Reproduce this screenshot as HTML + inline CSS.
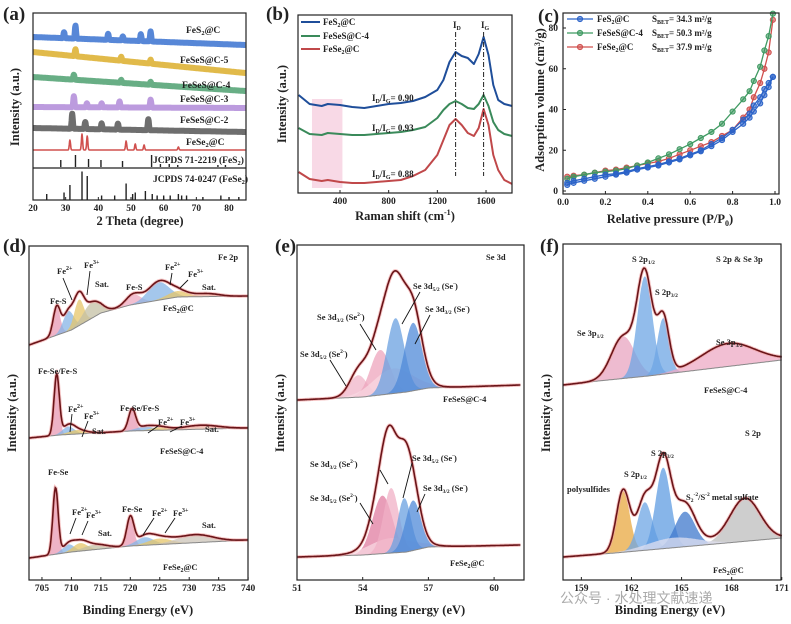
<!DOCTYPE html>
<html><head><meta charset="utf-8"><style>
html,body{margin:0;padding:0;background:#fff;}
svg{display:block;font-family:"Liberation Serif",serif;font-weight:bold;}
text{fill:#222;}
</style></head><body>
<svg id="fig" width="791" height="624" viewBox="0 0 791 624">
<rect width="791" height="624" fill="#fff"/>
<g id="marks"></g>
<g fill="none" stroke="#222" stroke-width="1.2">
<rect x="33" y="13" width="213" height="187"/>
<line x1="33" y1="168" x2="246" y2="168"/>
<rect x="298" y="15" width="214" height="178"/>
<rect x="563" y="13" width="216" height="181"/>
<rect x="29" y="246" width="219" height="334"/>
<rect x="297" y="245" width="227" height="335"/>
<rect x="563" y="244" width="218" height="336"/>
</g>
<g id="ticks" font-size="9.5" text-anchor="middle"></g>
<g font-size="19">
<text x="3" y="20">(a)</text>
<text x="266" y="20">(b)</text>
<text x="538" y="22">(c)</text>
<text x="3" y="252">(d)</text>
<text x="275" y="252">(e)</text>
<text x="540" y="252">(f)</text>
</g>
<g font-size="12.5" text-anchor="middle">
<text x="140" y="225">2 Theta (degree)</text>
<text x="405" y="220">Raman shift (cm<tspan dy="-5" font-size="8">-1</tspan><tspan dy="5">)</tspan></text>
<text x="670" y="223">Relative pressure (P/P<tspan dy="3" font-size="8">0</tspan><tspan dy="-3">)</tspan></text>
<text x="138" y="614">Binding Energy (eV)</text>
<text x="410" y="614">Binding Energy (eV)</text>
<text x="670" y="614">Binding Energy (eV)</text>
<text transform="translate(19,107) rotate(-90)">Intensity (a.u.)</text>
<text transform="translate(286,104) rotate(-90)">Intensity (a.u.)</text>
<text transform="translate(544,100) rotate(-90)">Adsorption volume (cm<tspan dy="-4" font-size="8">3</tspan><tspan dy="4">/g)</tspan></text>
<text transform="translate(16,413) rotate(-90)">Intensity (a.u.)</text>
<text transform="translate(284,413) rotate(-90)">Intensity (a.u.)</text>
<text transform="translate(550,413) rotate(-90)">Intensity (a.u.)</text>
</g>
<g font-size="9.5">
<text x="186" y="33">FeS<tspan dy="2" font-size="6.5">2</tspan><tspan dy="-2">@C</tspan></text>
<text x="180" y="63">FeSeS@C-5</text>
<text x="182" y="88">FeSeS@C-4</text>
<text x="180" y="102">FeSeS@C-3</text>
<text x="180" y="123">FeSeS@C-2</text>
<text x="186" y="145">FeSe<tspan dy="2" font-size="6.5">2</tspan><tspan dy="-2">@C</tspan></text>
<text x="153" y="163">JCPDS 71-2219 (FeS<tspan dy="2" font-size="6.5">2</tspan><tspan dy="-2">)</tspan></text>
<text x="153" y="182">JCPDS 74-0247 (FeSe<tspan dy="2" font-size="6.5">2</tspan><tspan dy="-2">)</tspan></text>
</g>
<g font-size="9">
<line x1="301" y1="22" x2="320" y2="22" stroke="#1f4e9a" stroke-width="2"/>
<text x="323" y="25">FeS<tspan dy="2" font-size="6">2</tspan><tspan dy="-2">@C</tspan></text>
<line x1="301" y1="36" x2="320" y2="36" stroke="#3a8a5a" stroke-width="2"/>
<text x="323" y="39">FeSeS@C-4</text>
<line x1="301" y1="49" x2="320" y2="49" stroke="#c0484a" stroke-width="2"/>
<text x="323" y="52">FeSe<tspan dy="2" font-size="6">2</tspan><tspan dy="-2">@C</tspan></text>
<text x="372" y="101">I<tspan dy="2" font-size="6">D</tspan><tspan dy="-2">/I</tspan><tspan dy="2" font-size="6">G</tspan><tspan dy="-2">= 0.90</tspan></text>
<text x="372" y="131">I<tspan dy="2" font-size="6">D</tspan><tspan dy="-2">/I</tspan><tspan dy="2" font-size="6">G</tspan><tspan dy="-2">= 0.93</tspan></text>
<text x="372" y="177">I<tspan dy="2" font-size="6">D</tspan><tspan dy="-2">/I</tspan><tspan dy="2" font-size="6">G</tspan><tspan dy="-2">= 0.88</tspan></text>
<text x="453" y="28">I<tspan dy="2" font-size="6">D</tspan></text>
<text x="481" y="28">I<tspan dy="2" font-size="6">G</tspan></text>
</g>
<g font-size="9">
<text x="597" y="22">FeS<tspan dy="2" font-size="6">2</tspan><tspan dy="-2">@C</tspan></text>
<text x="597" y="36">FeSeS@C-4</text>
<text x="597" y="50">FeSe<tspan dy="2" font-size="6">2</tspan><tspan dy="-2">@C</tspan></text>
<text x="652" y="22">S<tspan dy="2" font-size="6">BET</tspan><tspan dy="-2">= 34.3 m²/g</tspan></text>
<text x="652" y="36">S<tspan dy="2" font-size="6">BET</tspan><tspan dy="-2">= 50.3 m²/g</tspan></text>
<text x="652" y="50">S<tspan dy="2" font-size="6">BET</tspan><tspan dy="-2">= 37.9 m²/g</tspan></text>
</g>
<g font-size="8.5">
<text x="218" y="260">Fe 2p</text>
<text x="50" y="304">Fe-S</text>
<text x="57" y="274">Fe<tspan dy="-4" font-size="6">2+</tspan></text>
<text x="84" y="268">Fe<tspan dy="-4" font-size="6">3+</tspan></text>
<text x="95" y="287">Sat.</text>
<text x="126" y="290">Fe-S</text>
<text x="165" y="270">Fe<tspan dy="-4" font-size="6">2+</tspan></text>
<text x="188" y="277">Fe<tspan dy="-4" font-size="6">3+</tspan></text>
<text x="202" y="290">Sat.</text>
<text x="163" y="311">FeS<tspan dy="2" font-size="6">2</tspan><tspan dy="-2">@C</tspan></text>
<text x="38" y="374">Fe-Se/Fe-S</text>
<text x="68" y="412">Fe<tspan dy="-4" font-size="6">2+</tspan></text>
<text x="84" y="419">Fe<tspan dy="-4" font-size="6">3+</tspan></text>
<text x="92" y="434">Sat.</text>
<text x="120" y="411">Fe-Se/Fe-S</text>
<text x="158" y="425">Fe<tspan dy="-4" font-size="6">2+</tspan></text>
<text x="180" y="425">Fe<tspan dy="-4" font-size="6">3+</tspan></text>
<text x="205" y="432">Sat.</text>
<text x="160" y="454">FeSeS@C-4</text>
<text x="48" y="475">Fe-Se</text>
<text x="72" y="515">Fe<tspan dy="-4" font-size="6">2+</tspan></text>
<text x="86" y="518">Fe<tspan dy="-4" font-size="6">3+</tspan></text>
<text x="98" y="536">Sat.</text>
<text x="122" y="512">Fe-Se</text>
<text x="152" y="516">Fe<tspan dy="-4" font-size="6">2+</tspan></text>
<text x="173" y="516">Fe<tspan dy="-4" font-size="6">3+</tspan></text>
<text x="202" y="528">Sat.</text>
<text x="163" y="570">FeSe<tspan dy="2" font-size="6">2</tspan><tspan dy="-2">@C</tspan></text>
</g>
<g font-size="8.5">
<text x="486" y="260">Se 3d</text>
<text x="413" y="289">Se 3d<tspan dy="2" font-size="5.5">5/2</tspan><tspan dy="-2"> (Se</tspan><tspan dy="-4" font-size="5.5">-</tspan><tspan dy="4">)</tspan></text>
<text x="425" y="312">Se 3d<tspan dy="2" font-size="5.5">3/2</tspan><tspan dy="-2"> (Se</tspan><tspan dy="-4" font-size="5.5">-</tspan><tspan dy="4">)</tspan></text>
<text x="317" y="320">Se 3d<tspan dy="2" font-size="5.5">3/2</tspan><tspan dy="-2"> (Se</tspan><tspan dy="-4" font-size="5.5">2-</tspan><tspan dy="4">)</tspan></text>
<text x="300" y="357">Se 3d<tspan dy="2" font-size="5.5">5/2</tspan><tspan dy="-2"> (Se</tspan><tspan dy="-4" font-size="5.5">2-</tspan><tspan dy="4">)</tspan></text>
<text x="443" y="402">FeSeS@C-4</text>
<text x="310" y="467">Se 3d<tspan dy="2" font-size="5.5">3/2</tspan><tspan dy="-2"> (Se</tspan><tspan dy="-4" font-size="5.5">2-</tspan><tspan dy="4">)</tspan></text>
<text x="412" y="461">Se 3d<tspan dy="2" font-size="5.5">5/2</tspan><tspan dy="-2"> (Se</tspan><tspan dy="-4" font-size="5.5">-</tspan><tspan dy="4">)</tspan></text>
<text x="423" y="491">Se 3d<tspan dy="2" font-size="5.5">3/2</tspan><tspan dy="-2"> (Se</tspan><tspan dy="-4" font-size="5.5">-</tspan><tspan dy="4">)</tspan></text>
<text x="310" y="501">Se 3d<tspan dy="2" font-size="5.5">5/2</tspan><tspan dy="-2"> (Se</tspan><tspan dy="-4" font-size="5.5">2-</tspan><tspan dy="4">)</tspan></text>
<text x="450" y="566">FeSe<tspan dy="2" font-size="6">2</tspan><tspan dy="-2">@C</tspan></text>
</g>
<g font-size="8.5">
<text x="716" y="262">S 2p &amp; Se 3p</text>
<text x="632" y="262">S 2p<tspan dy="2" font-size="5.5">1/2</tspan></text>
<text x="655" y="295">S 2p<tspan dy="2" font-size="5.5">3/2</tspan></text>
<text x="577" y="336">Se 3p<tspan dy="2" font-size="5.5">1/2</tspan></text>
<text x="716" y="345">Se 3p<tspan dy="2" font-size="5.5">3/2</tspan></text>
<text x="704" y="393">FeSeS@C-4</text>
<text x="745" y="436">S 2p</text>
<text x="651" y="456">S 2p<tspan dy="2" font-size="5.5">3/2</tspan></text>
<text x="624" y="477">S 2p<tspan dy="2" font-size="5.5">1/2</tspan></text>
<text x="567" y="492">polysulfides</text>
<text x="686" y="500">S<tspan dy="2" font-size="5.5">2</tspan><tspan dy="-6" font-size="5.5">-2</tspan><tspan dy="4">/S</tspan><tspan dy="-4" font-size="5.5">-2</tspan><tspan dy="4"> metal sulfate</tspan></text>
<text x="713" y="573">FeS<tspan dy="2" font-size="6">2</tspan><tspan dy="-2">@C</tspan></text>
</g>
<g stroke="#111" stroke-width="0.9" fill="none" id="arrows">
<line x1="63" y1="278" x2="72" y2="300"/><line x1="90" y1="271" x2="87" y2="295"/>
<line x1="172" y1="273" x2="170" y2="285"/><line x1="188" y1="280" x2="180" y2="288"/>
<line x1="72" y1="414" x2="70" y2="432"/><line x1="88" y1="421" x2="82" y2="437"/>
<line x1="158" y1="426" x2="148" y2="433"/><line x1="182" y1="426" x2="170" y2="432"/>
<line x1="76" y1="518" x2="70" y2="534"/><line x1="88" y1="521" x2="82" y2="535"/>
<line x1="154" y1="518" x2="143" y2="535"/><line x1="175" y1="518" x2="165" y2="533"/>
<line x1="420" y1="292" x2="402" y2="324"/><line x1="430" y1="315" x2="415" y2="344"/>
<line x1="360" y1="324" x2="376" y2="350"/><line x1="330" y1="360" x2="346" y2="386"/>
<line x1="380" y1="470" x2="388" y2="484"/><line x1="412" y1="463" x2="403" y2="498"/>
<line x1="425" y1="494" x2="417" y2="512"/><line x1="360" y1="503" x2="373" y2="524"/>
</g>
<text x="560" y="603" font-size="14" font-weight="normal" style="fill:#aaa" font-family="'Liberation Sans','Noto Sans CJK SC',sans-serif">公众号 · 水处理文献速递</text>
</svg>
<script>
// ===== Panel a: XRD =====
const xrdNames=['FeS2@C','FeSeS@C-5','FeSeS@C-4','FeSeS@C-3','FeSeS@C-2','FeSe2@C'];
const xrdBaseStart=[163,148,123,93,72,50];
const xrdBaseEnd=[155,127,109,92,68,50];
const xrdPeakPos=[[29.5,33,43,47.5,53,56],[33,47,56],[32.5,47,56],[32.5,36.5,41,46.5,56],[32,36,41,46,55.3],[31.3,35,36.6,48.5,51.3,54,64.5]];
const xrdPeakH=[[6,13,6,4,7,10],[7,4,4],[5,3,3],[11,4,4,6,8],[15,7,6,6,11],[10,16,14,9,6,5,3]];
const refFeS2Pos=[28.5,33,37,40.8,47.4,56.3,59,61.7,64.3,76.6,78.9];
const refFeS2H=[7,12,8,7,6,12,3,3,2,2,2];
const refFeSe2Pos=[24.2,29.5,31.3,35,36.6,41,45,48.5,50.5,51.3,54.4,56.5,58,60,62,64.5,65.5,67,72,77.5,80,83];
const refFeSe2H=[4,5,10,19,16,3,3,11,4,5,6,4,3,3,3,4,3,3,2,3,2,2];
const xTicksA=[20,30,40,50,60,70,80];
// ===== Panel b: Raman =====
const ramanShift=[60,150,250,300,400,500,600,700,800,900,1000,1100,1200,1250,1300,1350,1400,1450,1500,1540,1580,1620,1660,1700,1750,1814];
const ramanFeS2=[98,89,87,89,88,86,85,87,89,90,92,96,103,113,131,141,137,135,129,139,156,138,108,93,89,87];
const ramanFeSeS=[65,59,58,60,59,58,58,59,60,61,63,66,75,83,89,92,89,85,84,89,98,87,71,63,59,57];
const ramanFeSe2=[21,14,12,13,11,10,10,11,12,13,17,23,38,53,68,74,68,60,57,65,84,68,38,23,13,9];
const ramanBandPos=[1350,1580];
const xTicksB=[400,800,1200,1600];
// ===== Panel c: BET =====
const betP=[0.02,0.05,0.1,0.15,0.2,0.25,0.3,0.35,0.4,0.45,0.5,0.55,0.6,0.65,0.7,0.75,0.8,0.85,0.88,0.9,0.93,0.95,0.97,0.99];
const betFeS2=[3,4,5,6,7,8,9,10.5,11.5,12.5,14,15.5,17.5,19.5,22,25,29,33,36,39,43,47,51,56];
const betFeS2Des=[4,5,6,7,8,8.5,9.5,11,12,13,14.5,16,18,20,23,26,30,35,38,42,46,50,53,56];
const betFeSeS=[6,7,8,9,9.5,10,11,12.5,14,16,18,20.5,23,26,29,33,39,45,49,54,61,69,76,87];
const betFeSe2=[7,7.5,8,9,10,10.5,11.5,12.5,13.5,14.5,16,18,20,22,24,27,30,36,40,46,53,60,68,84];
const yTicksC=[0,20,40,60,80];
const xTicksC=[0,0.2,0.4,0.6,0.8,1.0];
// ===== Panel d: Fe 2p =====
const dBaseE=[[702.8,710,715,720,728,740],[702.8,708,720,740],[702.8,710,720,740]];
const dBaseV=[[235,250,267,275,283,284],[142,145,149,152],[22,28,34,40]];
const dPeakC=[[707.5,709.5,711.3,713.5,720.5,724.8,728,733],[707.5,709.5,711,720.3,722.5,725,732],[707.3,709.5,711.5,714,720,722.5,725,731]];
const dPeakH=[[28,20,26,16,10,18,6,3],[60,8,4,21,4,3,4],[66,8,8,5,28,8,6,8]];
const dPeakW=[[0.6,0.9,0.8,1.5,1.3,1.8,1.8,2],[0.45,1,1.5,0.6,1.5,1.5,3],[0.45,1,1.2,2,0.6,1.5,2,3]];
const dPeakColor=[['#e89ab4','#86b4e6','#e6c66a','#c4c0a4','#eeaac0','#86b4e6','#e6c66a','#eebbaa'],['#e89ab4','#86b4e6','#e6c66a','#e89ab4','#86b4e6','#e6c66a','#eebbaa'],['#e89ab4','#86b4e6','#e6c66a','#c4c0a4','#e89ab4','#86b4e6','#e6c66a','#ccc4b8']];
const xTicksD=[705,710,715,720,725,730,735,740];
// ===== Panel e: Se 3d =====
const eBaseE=[[51,54,56,57,61.2],[51,54,56,57,61.2]];
const eBaseV=[[180,183,188,192,195],[23,25,28,33,35]];
const ePeakC=[[53.8,54.8,55.4,55.5,56.3],[54.9,55.3,55.3,55.9,56.3]];
const ePeakH=[[22,45,25,75,68],[58,15,65,54,50]];
const ePeakW=[[0.4,0.45,0.9,0.4,0.4],[0.45,1,0.35,0.3,0.35]];
const ePeakColor=[['#f0b4c8','#eea4bc','#f8d8e2','#6aa0e0','#4f8ad8'],['#e07ca0','#f8d8e2','#f0b0c6','#6aa0e0','#4f8ad8']];
const xTicksE=[51,54,57,60];
// ===== Panel f: S 2p =====
const fBaseE=[[157.9,160,163,166,171],[157.9,161,165,171]];
const fBaseV=[[195,199,204,210,220],[23,27,33,42]];
const fPeakC=[[161.5,162.8,163.9,167.8],[161.5,162.8,163.9,165.2,168.8,164.5]];
const fPeakH=[[42,100,56,23],[61,48,81,35,43,10]];
const fPeakW=[[0.7,0.45,0.35,1.6],[0.4,0.45,0.45,0.6,0.9,1.5]];
const fPeakColor=[['#e8a4c0','#6ea6e4','#6ea6e4','#eeaac4'],['#e8a840','#6ea6e4','#5f9ce2','#3f78cc','#bdbdbd','#e0e0f0']];
const xTicksF=[159,162,165,168,171];

const NS='http://www.w3.org/2000/svg';
const marks=document.getElementById('marks');
const ticks=document.getElementById('ticks');
function mk(tag,attrs,parent){const e=document.createElementNS(NS,tag);for(const k in attrs)e.setAttribute(k,attrs[k]);(parent||marks).appendChild(e);return e;}
function gauss(x,c,h,w){return h*Math.exp(-(x-c)*(x-c)/(2*w*w));}
function interp(xs,ys,x){if(x<=xs[0])return ys[0];for(let i=1;i<xs.length;i++){if(x<=xs[i]){const t=(x-xs[i-1])/(xs[i]-xs[i-1]);return ys[i-1]+t*(ys[i]-ys[i-1]);}}return ys[ys.length-1];}
function pathFrom(pts){return 'M'+pts.map(p=>p[0].toFixed(1)+','+p[1].toFixed(1)).join('L');}

const xa=t=>33+(t-20)*3.267, ya=v=>200-v;
const xb=w=>298+(w-55)*0.1217, yb=v=>193-v;
const xc=p=>563+p*212, yc=v=>191-v*2.0375;
const xd=E=>29+(E-702.8)*5.89, yd=v=>580-v;
const xe=E=>297+(E-51)*21.9, ye=v=>580-v;
const xf=E=>563+(E-157.9)*16.7, yf=v=>580-v;

function xTickRow(vals,sx,yAxis,fmt,name){vals.forEach(v=>{const x=sx(v);
 mk('line',{x1:x,y1:yAxis,x2:x,y2:yAxis-3,stroke:'#222','stroke-width':1},ticks);
 const t=mk('text',{x:x,y:yAxis+11},ticks);t.textContent=fmt(v);
 
 });}
xTickRow(xTicksA,xa,200,v=>v,'xa');
xTickRow(xTicksB,xb,193,v=>v,'xb');
xTickRow(xTicksC,xc,194,v=>v.toFixed(1),'xc');
xTickRow(xTicksD,xd,580,v=>v,'xd');
xTickRow(xTicksE,xe,580,v=>v,'xe');
xTickRow(xTicksF,xf,580,v=>v,'xf');
yTicksC.forEach(v=>{const y=yc(v);mk('line',{x1:563,y1:y,x2:566,y2:y,stroke:'#222'},ticks);
 const t=mk('text',{x:558,y:y+3,'text-anchor':'end'},ticks);t.textContent=v;
 
 });

const xrdColors=['#3a72d0','#dcae2a','#4ea070','#b08ad8','#555555','#d0504e'];
const xrdWidths=[6,6,6,6,6,1.6];
xrdNames.forEach((n,i)=>{const pts=[];for(let t=20;t<=85;t+=0.1){let v=xrdBaseStart[i]+(xrdBaseEnd[i]-xrdBaseStart[i])*(t-20)/65;
 xrdPeakPos[i].forEach((c,k)=>{v+=gauss(t,c,xrdPeakH[i][k],0.18);});pts.push([xa(t),ya(v)]);}
 const p=mk('path',{d:pathFrom(pts),fill:'none',stroke:xrdColors[i],'stroke-width':xrdWidths[i],'stroke-opacity':i<5?0.85:1,'stroke-linejoin':'round'});
 
 });
refFeS2Pos.forEach((c,k)=>{const b=mk('line',{x1:xa(c),x2:xa(c),y1:167,y2:167-refFeS2H[k],stroke:'#222','stroke-width':1.4});
 
 });
refFeSe2Pos.forEach((c,k)=>{const b=mk('line',{x1:xa(c),x2:xa(c),y1:200,y2:200-refFeSe2H[k]*1.5,stroke:'#222','stroke-width':1.4});
 
 });

const pr=mk('rect',{x:xb(170),y:99,width:xb(420)-xb(170),height:89,fill:'#f6cfe0',opacity:0.8});


[[ramanFeS2,'#1f4e9a'],[ramanFeSeS,'#3a8a5a'],[ramanFeSe2,'#c0484a']].forEach((s,i)=>{
 const p=mk('path',{d:pathFrom(ramanShift.map((w,k)=>[xb(w),yb(s[0][k])])),fill:'none',stroke:s[1],'stroke-width':2,'stroke-linejoin':'round'});
 
 });
ramanBandPos.forEach(w=>{const l=mk('line',{x1:xb(w),x2:xb(w),y1:32,y2:176,stroke:'#222','stroke-width':1,'stroke-dasharray':'5,2,1,2'});
 
 });

function betSeries(xs,ys,color,name){const p=mk('path',{d:pathFrom(xs.map((x,k)=>[xc(x),yc(ys[k])])),fill:'none',stroke:color,'stroke-width':1.3});
 
 
 xs.forEach((x,k)=>{const c=mk('circle',{cx:xc(x),cy:yc(ys[k]),r:2.6,fill:color,'fill-opacity':0.6,stroke:color,'stroke-width':1});
 
 });}
betSeries(betP,betFeSe2,'#d0504e','bet-fese2');
betSeries(betP,betFeSeS,'#3f9a62','bet-feses');
betSeries(betP,betFeS2Des,'#2b63c8','bet-fes2-des');
betSeries(betP,betFeS2,'#2b63c8','bet-fes2');
[['#2b63c8',18],['#3f9a62',32],['#d0504e',46]].forEach(l=>{mk('line',{x1:567,x2:593,y1:l[1]+1,y2:l[1]+1,stroke:l[0],'stroke-width':1.3});mk('circle',{cx:580,cy:l[1]+1,r:2.6,fill:l[0],'fill-opacity':0.6,stroke:l[0]});});

function xps(sx,sy,E0,E1,bE,bV,pc,ph,pw,pcol,name){
 const base=[],env=[];
 for(let E=E0;E<=E1+1e-9;E+=(E1-E0)/300){const b=interp(bE,bV,E);base.push([E,b]);let s=b;pc.forEach((c,k)=>{s+=gauss(E,c,ph[k],pw[k]);});env.push([sx(E),sy(s)]);}
 pc.forEach((c,k)=>{const top=base.map(p=>[sx(p[0]),sy(p[1]+gauss(p[0],c,ph[k],pw[k]))]);
  const bot=base.slice().reverse().map(p=>[sx(p[0]),sy(p[1])]);
  const a=mk('path',{d:pathFrom(top.concat(bot))+'Z',fill:pcol[k],'fill-opacity':0.75,stroke:'none'});
  
  });
 const bl=mk('path',{d:pathFrom(base.map(p=>[sx(p[0]),sy(p[1])])),fill:'none',stroke:'#888','stroke-width':1});
 
 
 const e1=mk('path',{d:pathFrom(env),fill:'none',stroke:'#f0a0a0','stroke-width':3.5,'stroke-opacity':0.6});
 
 
 const e2=mk('path',{d:pathFrom(env),fill:'none',stroke:'#6a1418','stroke-width':1.6});
 
 }
for(let i=0;i<3;i++)xps(xd,yd,702.8,740,dBaseE[i],dBaseV[i],dPeakC[i],dPeakH[i],dPeakW[i],dPeakColor[i],'fe2p-'+i);
for(let i=0;i<2;i++)xps(xe,ye,51,61.2,eBaseE[i],eBaseV[i],ePeakC[i],ePeakH[i],ePeakW[i],ePeakColor[i],'se3d-'+i);
for(let i=0;i<2;i++)xps(xf,yf,157.9,171,fBaseE[i],fBaseV[i],fPeakC[i],fPeakH[i],fPeakW[i],fPeakColor[i],'s2p-'+i);
</script>
</body></html>
